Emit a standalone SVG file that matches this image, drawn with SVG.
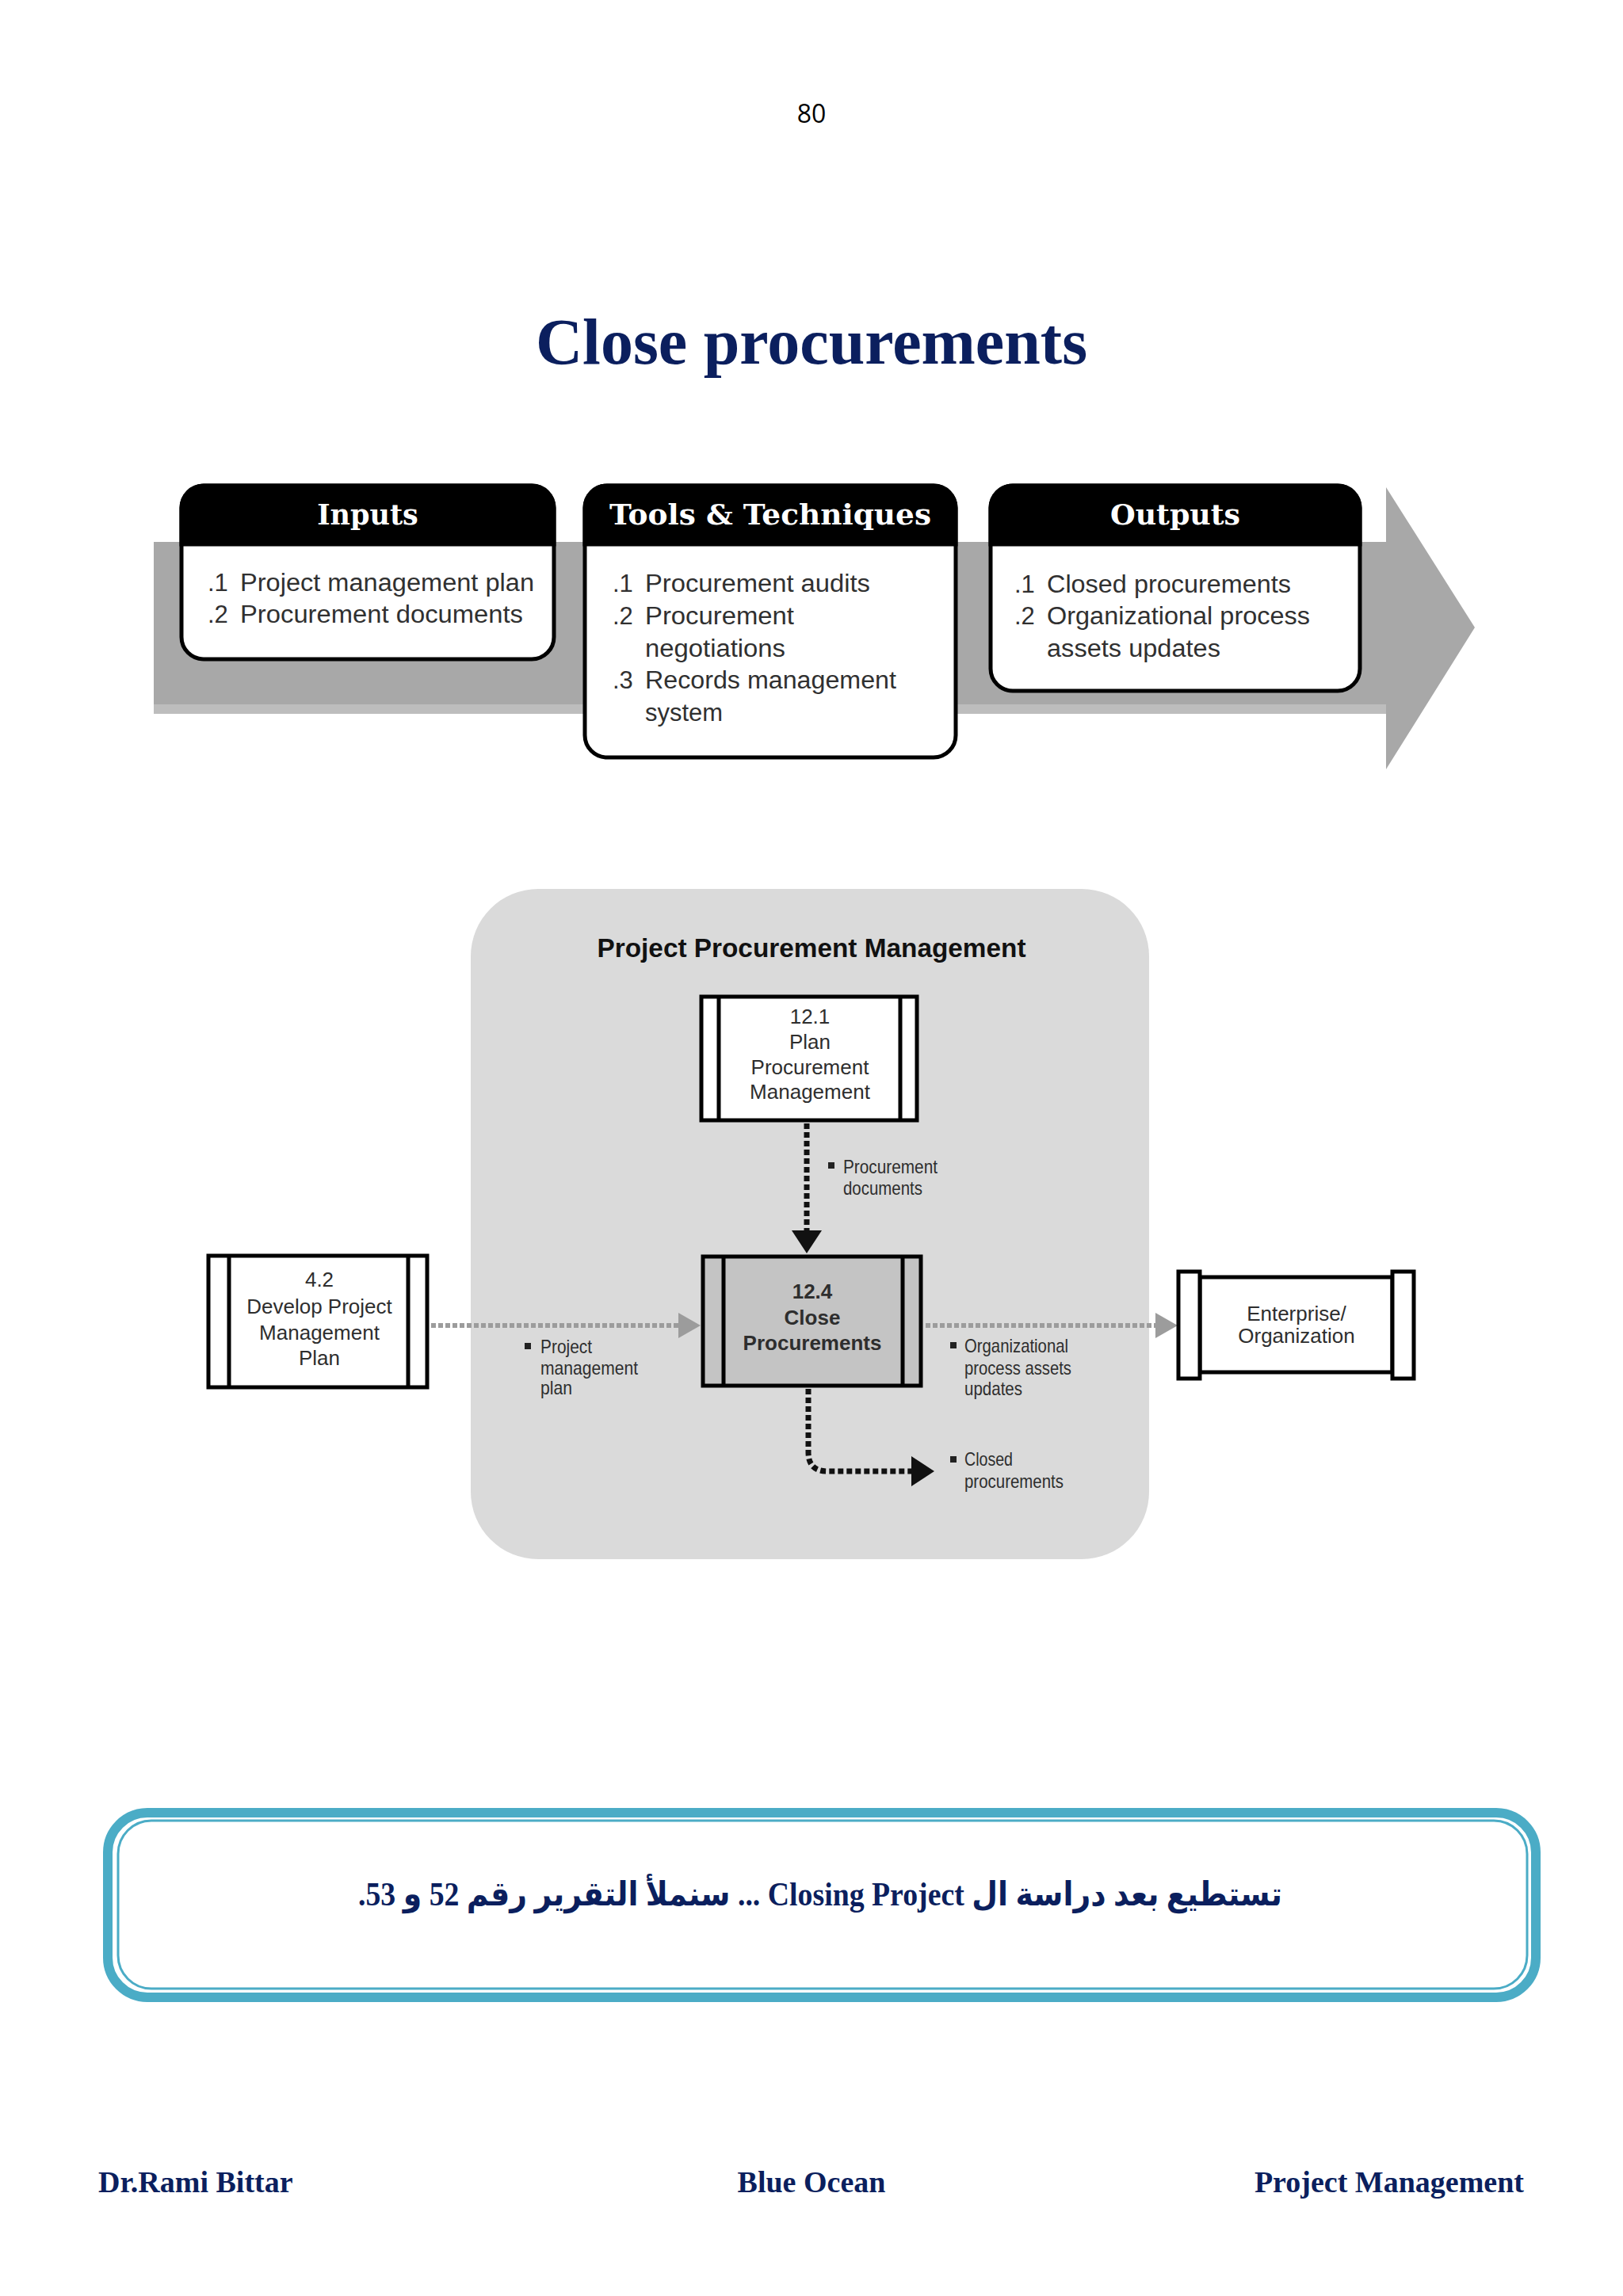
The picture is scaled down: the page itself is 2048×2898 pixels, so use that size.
<svg xmlns="http://www.w3.org/2000/svg" width="2048" height="2898" viewBox="0 0 2048 2898">
<defs>
<style>
.navy{fill:#0b1f5e;font-family:"Liberation Serif","Times New Roman",serif;font-weight:bold}
.hdr{fill:#ffffff;font-family:"DejaVu Serif","Liberation Serif",serif;font-weight:bold;font-size:35px}
.body{fill:#303030;font-family:"Liberation Sans",Arial,sans-serif;font-size:31px}
.box{fill:#ffffff;stroke:#000;stroke-width:5}
.proc{fill:#ffffff;stroke:#000;stroke-width:5}
.bar{stroke:#000;stroke-width:5}
.pt{fill:#2e2e2e;font-family:"Liberation Sans",Arial,sans-serif;font-size:26px;text-anchor:middle}
.lbl{fill:#2e2e2e;font-family:"Liberation Sans",Arial,sans-serif;font-size:24px}
.gdot{fill:none;stroke:#9c9c9c;stroke-width:6;stroke-dasharray:6 3}
.bdot{fill:none;stroke:#111;stroke-width:7;stroke-dasharray:7 4}
</style>
<marker id="gArrow" markerUnits="userSpaceOnUse" markerWidth="30" markerHeight="32" refX="0" refY="16" orient="auto">
<path d="M0,0 L28,16 L0,32 Z" fill="#9c9c9c"/>
</marker>
<marker id="bArrow" markerUnits="userSpaceOnUse" markerWidth="32" markerHeight="38" refX="0" refY="19" orient="auto">
<path d="M0,0 L29,19 L0,38 Z" fill="#111"/>
</marker>
</defs>
<rect x="0" y="0" width="2048" height="2898" fill="#ffffff"/>

<g id="page-number">
<text x="1024" y="155" font-family="'Open Sans','Noto Sans',sans-serif" font-size="32" fill="#000" text-anchor="middle">80</text>
</g>
<g id="title">
<text class="navy" x="1024" y="459" font-size="82" text-anchor="middle">Close procurements</text>
</g>

<g id="process-band">
<path d="M194,684 H1749 V615 L1861,792 L1749,971 V901 H194 Z" fill="#a8a8a8"/>
<rect x="194" y="889" width="1555" height="12" fill="#bdbdbd"/>
</g>

<g id="inputs">
<rect class="box" x="229" y="613" width="470" height="219" rx="28"/>
<path d="M229,687 V641 A28,28 0 0 1 257,613 H671 A28,28 0 0 1 699,641 V687 Z" fill="#000" stroke="#000" stroke-width="5"/>
<text class="hdr" x="464" y="662" text-anchor="middle">Inputs</text>
<text class="body" x="262" y="746">.1</text>
<text class="body" x="303" y="746" textLength="371" lengthAdjust="spacingAndGlyphs">Project management plan</text>
<text class="body" x="262" y="786">.2</text>
<text class="body" x="303" y="786" textLength="357" lengthAdjust="spacingAndGlyphs">Procurement documents</text>
</g>

<g id="tools">
<rect class="box" x="738" y="613" width="468" height="343" rx="28"/>
<path d="M738,687 V641 A28,28 0 0 1 766,613 H1178 A28,28 0 0 1 1206,641 V687 Z" fill="#000" stroke="#000" stroke-width="5"/>
<text class="hdr" x="972" y="662" text-anchor="middle" textLength="406" lengthAdjust="spacingAndGlyphs">Tools &amp; Techniques</text>
<text class="body" x="773" y="747">.1</text>
<text class="body" x="814" y="747" textLength="284" lengthAdjust="spacingAndGlyphs">Procurement audits</text>
<text class="body" x="773" y="788">.2</text>
<text class="body" x="814" y="788" textLength="188" lengthAdjust="spacingAndGlyphs">Procurement</text>
<text class="body" x="814" y="829" textLength="177" lengthAdjust="spacingAndGlyphs">negotiations</text>
<text class="body" x="773" y="869">.3</text>
<text class="body" x="814" y="869" textLength="317" lengthAdjust="spacingAndGlyphs">Records management</text>
<text class="body" x="814" y="910" textLength="98" lengthAdjust="spacingAndGlyphs">system</text>
</g>

<g id="outputs">
<rect class="box" x="1250" y="613" width="466" height="259" rx="28"/>
<path d="M1250,687 V641 A28,28 0 0 1 1278,613 H1688 A28,28 0 0 1 1716,641 V687 Z" fill="#000" stroke="#000" stroke-width="5"/>
<text class="hdr" x="1483" y="662" text-anchor="middle" textLength="164" lengthAdjust="spacingAndGlyphs">Outputs</text>
<text class="body" x="1280" y="748">.1</text>
<text class="body" x="1321" y="748" textLength="308" lengthAdjust="spacingAndGlyphs">Closed procurements</text>
<text class="body" x="1280" y="788">.2</text>
<text class="body" x="1321" y="788" textLength="332" lengthAdjust="spacingAndGlyphs">Organizational process</text>
<text class="body" x="1321" y="829" textLength="219" lengthAdjust="spacingAndGlyphs">assets updates</text>
</g>

<g id="knowledge-area">
<rect x="594" y="1122" width="856" height="846" rx="85" fill="#dadada"/>
<text x="1024" y="1208" fill="#111" font-family="'Liberation Sans',Arial,sans-serif" font-weight="bold" font-size="33.5" text-anchor="middle" textLength="541" lengthAdjust="spacingAndGlyphs">Project Procurement Management</text>
</g>

<g id="connectors">
<path class="bdot" d="M1018,1418 V1553" marker-end="url(#bArrow)"/>
<path class="gdot" d="M544,1673 H856" marker-end="url(#gArrow)"/>
<path class="gdot" d="M1168,1673 H1458" marker-end="url(#gArrow)"/>
<path class="bdot" d="M1020,1753 V1833 Q1020,1857 1044,1857 H1150" marker-end="url(#bArrow)"/>
</g>

<g id="label-procurement-documents">
<rect x="1045" y="1467" width="8" height="8" fill="#222"/>
<text class="lbl" x="1064" y="1481" textLength="119" lengthAdjust="spacingAndGlyphs">Procurement</text>
<text class="lbl" x="1064" y="1508" textLength="100" lengthAdjust="spacingAndGlyphs">documents</text>
</g>
<g id="label-project-management-plan">
<rect x="662" y="1695" width="8" height="8" fill="#222"/>
<text class="lbl" x="682" y="1708" textLength="65" lengthAdjust="spacingAndGlyphs">Project</text>
<text class="lbl" x="682" y="1735" textLength="123" lengthAdjust="spacingAndGlyphs">management</text>
<text class="lbl" x="682" y="1760" textLength="40" lengthAdjust="spacingAndGlyphs">plan</text>
</g>
<g id="label-opa-updates">
<rect x="1199" y="1694" width="8" height="8" fill="#222"/>
<text class="lbl" x="1217" y="1707" textLength="131" lengthAdjust="spacingAndGlyphs">Organizational</text>
<text class="lbl" x="1217" y="1735" textLength="135" lengthAdjust="spacingAndGlyphs">process assets</text>
<text class="lbl" x="1217" y="1761" textLength="73" lengthAdjust="spacingAndGlyphs">updates</text>
</g>
<g id="label-closed-procurements">
<rect x="1199" y="1838" width="8" height="8" fill="#222"/>
<text class="lbl" x="1217" y="1850" textLength="61" lengthAdjust="spacingAndGlyphs">Closed</text>
<text class="lbl" x="1217" y="1878" textLength="125" lengthAdjust="spacingAndGlyphs">procurements</text>
</g>

<g id="node-12-1">
<rect class="proc" x="885" y="1258" width="272" height="156"/>
<line class="bar" x1="907" y1="1258" x2="907" y2="1414"/>
<line class="bar" x1="1136" y1="1258" x2="1136" y2="1414"/>
<text class="pt" x="1022" y="1292">12.1</text>
<text class="pt" x="1022" y="1324">Plan</text>
<text class="pt" x="1022" y="1356">Procurement</text>
<text class="pt" x="1022" y="1387">Management</text>
</g>

<g id="node-12-4">
<rect x="887" y="1586" width="275" height="163" fill="#c4c4c4" stroke="#000" stroke-width="5"/>
<line class="bar" x1="913" y1="1586" x2="913" y2="1749"/>
<line class="bar" x1="1139" y1="1586" x2="1139" y2="1749"/>
<text class="pt" x="1025" y="1639" font-weight="bold" fill="#1a1a1a">12.4</text>
<text class="pt" x="1025" y="1672" font-weight="bold" fill="#1a1a1a">Close</text>
<text class="pt" x="1025" y="1704" font-weight="bold" fill="#1a1a1a">Procurements</text>
</g>

<g id="node-4-2">
<rect class="proc" x="263" y="1585" width="276" height="166"/>
<line class="bar" x1="289" y1="1585" x2="289" y2="1751"/>
<line class="bar" x1="515" y1="1585" x2="515" y2="1751"/>
<text class="pt" x="403" y="1624">4.2</text>
<text class="pt" x="403" y="1658">Develop Project</text>
<text class="pt" x="403" y="1691">Management</text>
<text class="pt" x="403" y="1723">Plan</text>
</g>

<g id="node-enterprise">
<rect class="proc" x="1514" y="1612" width="243" height="120"/>
<rect class="proc" x="1487" y="1605" width="27" height="135"/>
<rect class="proc" x="1757" y="1605" width="27" height="135"/>
<text class="pt" x="1636" y="1667" font-size="25">Enterprise/</text>
<text class="pt" x="1636" y="1695" font-size="25">Organization</text>
</g>

<g id="note-box">
<rect x="136" y="2288" width="1802" height="233" rx="50" fill="#ffffff" stroke="#4bacc6" stroke-width="12"/>
<rect x="149" y="2298" width="1778" height="212" rx="42" fill="none" stroke="#4bacc6" stroke-width="3"/>
<text class="navy" x="1035" y="2405" font-size="42" text-anchor="middle" direction="rtl" unicode-bidi="embed" textLength="1166" lengthAdjust="spacingAndGlyphs" style="font-family:'Liberation Serif','DejaVu Sans',serif">تستطيع بعد دراسة ال  Closing Project ... سنملأ التقرير رقم 52 و 53.</text>
</g>

<g id="footer">
<text class="navy" x="124" y="2767" font-size="38">Dr.Rami Bittar</text>
<text class="navy" x="1024" y="2767" font-size="38" text-anchor="middle">Blue Ocean</text>
<text class="navy" x="1923" y="2767" font-size="38" text-anchor="end">Project Management</text>
</g>
</svg>
